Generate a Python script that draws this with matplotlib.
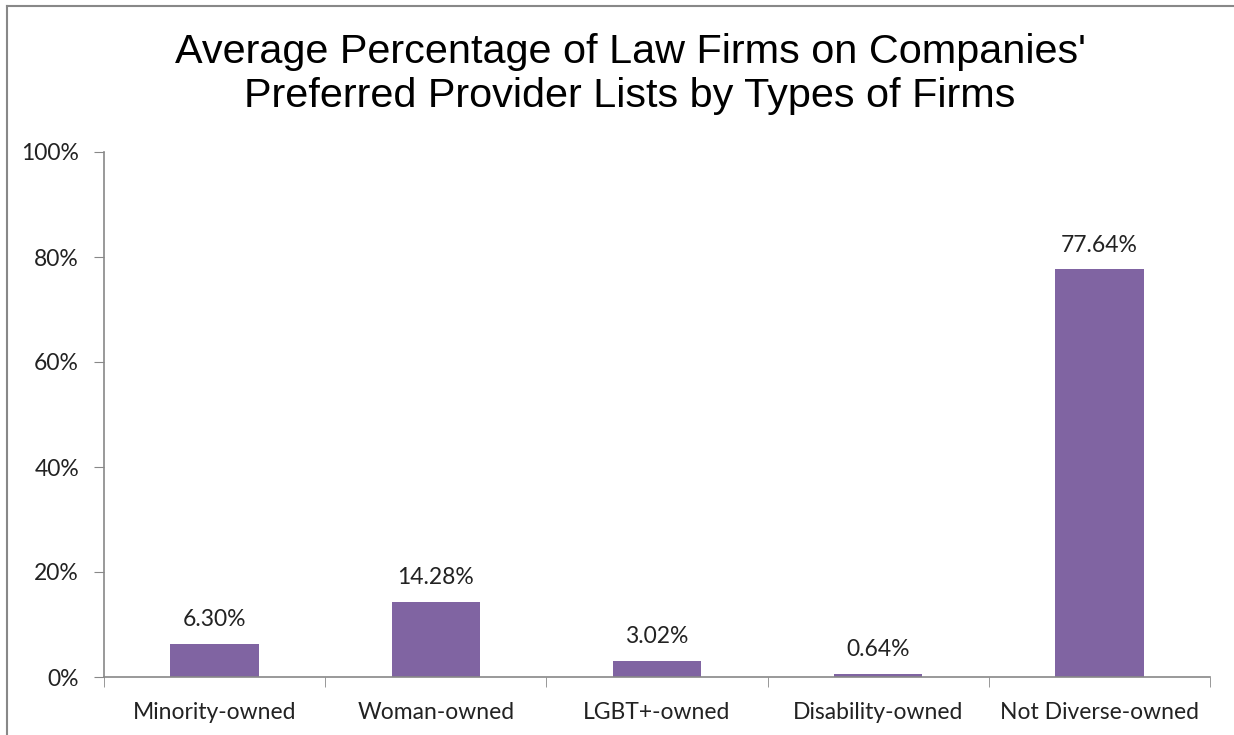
import numpy as np
import matplotlib.pyplot as plt
from matplotlib.lines import Line2D

categories = ['Minority-owned', 'Woman-owned', 'LGBT+-owned', 'Disability-owned', 'Not Diverse-owned']
values = [6.30, 14.28, 3.02, 0.64, 77.64]
labels = ['6.30%', '14.28%', '3.02%', '0.64%', '77.64%']

W, H = 1234, 735
fig = plt.figure(figsize=(W / 100, H / 100), dpi=100)
ax = fig.add_axes([104 / W, 58 / H, (1210 - 104) / W, (677 - 152) / H])

x = np.arange(len(categories))
ax.bar(x, values, width=0.4, color='#8064a2', zorder=2)
for xi, v, lab in zip(x, values, labels):
    ax.text(xi, v + 2.6, lab, ha='center', va='bottom', fontsize=16.5, family='Lato', color='#222222')

ax.set_xlim(-0.5, len(categories) - 0.5)
ax.set_ylim(0, 100)
ax.set_yticks(np.arange(0, 101, 20))
ax.set_yticklabels([f'{t}%' for t in range(0, 101, 20)], family='Lato', fontsize=16.5)
ax.set_xticks(x)
ax.set_xticklabels(categories, family='Lato', fontsize=16.5)
ax.tick_params(axis='x', length=0, pad=18)
ax.tick_params(axis='y', length=7, color='#888888', pad=11, labelcolor='#222222')
ax.tick_params(axis='x', labelcolor='#222222')

# category boundary ticks
ax.set_xticks(np.arange(-0.5, len(categories), 1), minor=True)
ax.tick_params(axis='x', which='minor', length=7, color='#888888', direction='out')

for s in ['top', 'right']:
    ax.spines[s].set_visible(False)
for s in ['left', 'bottom']:
    ax.spines[s].set_color('#888888')
    ax.spines[s].set_linewidth(1.2)

fig.text(630 / W, 1 - 74 / H, "Average Percentage of Law Firms on Companies'\nPreferred Provider Lists by Types of Firms",
         ha='center', va='center', fontsize=29.8, family='Liberation Sans', linespacing=1.2)

# outer frame (top and left edges)
fig.add_artist(Line2D([7 / W, 7 / W], [0, 1 - 6 / H], color='#888888', lw=1.5))
fig.add_artist(Line2D([7 / W, 1], [1 - 6 / H, 1 - 6 / H], color='#888888', lw=1.5))

fig.savefig('out.png', dpi=100)
